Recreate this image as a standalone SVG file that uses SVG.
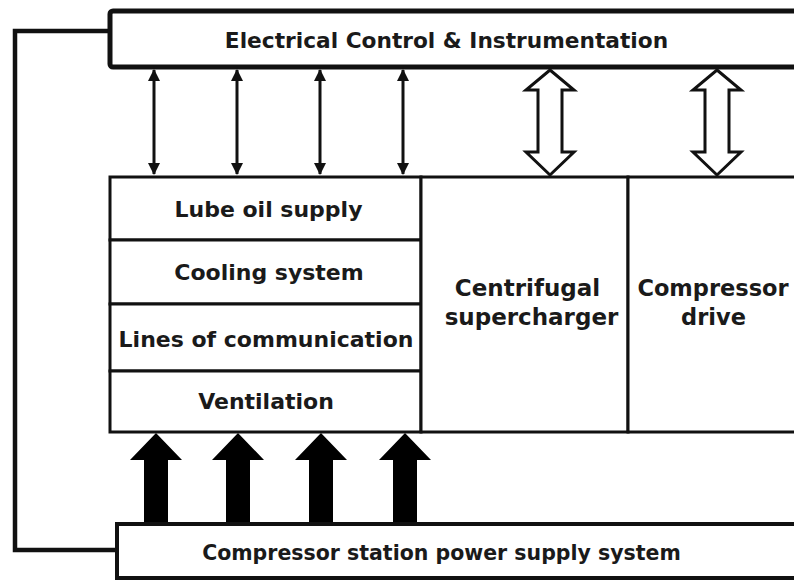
<svg xmlns="http://www.w3.org/2000/svg" width="794" height="581" viewBox="0 0 794 581">
<style>
.box{fill:#fff;stroke:#111;stroke-width:3}
.thick{fill:#fff;stroke:#111;stroke-width:5}
.t{font-family:"DejaVu Sans","Liberation Sans",Arial,sans-serif;font-weight:bold;font-size:22px;fill:#1a1a1a;text-anchor:middle}
.ln{fill:none;stroke:#111;stroke-width:3}
.hollow{fill:#fff;stroke:#111;stroke-width:3;stroke-linejoin:miter}
.solid{fill:#000}
</style>
<defs>
<marker id="ah" viewBox="0 0 12 12" refX="11" refY="6" markerWidth="12" markerHeight="12" markerUnits="userSpaceOnUse" orient="auto-start-reverse">
<path d="M0,0 L12,6 L0,12 Z" fill="#111"/>
</marker>
</defs>
<rect width="794" height="581" fill="#fff"/>

<g id="connectors">
<polyline class="ln" points="112,31 15,31 15,550 118,550" style="stroke-width:4.5"/>
<line class="ln" x1="154" y1="70" x2="154" y2="174" marker-start="url(#ah)" marker-end="url(#ah)"/>
<line class="ln" x1="237" y1="70" x2="237" y2="174" marker-start="url(#ah)" marker-end="url(#ah)"/>
<line class="ln" x1="320" y1="70" x2="320" y2="174" marker-start="url(#ah)" marker-end="url(#ah)"/>
<line class="ln" x1="403" y1="70" x2="403" y2="174" marker-start="url(#ah)" marker-end="url(#ah)"/>
<path class="hollow" d="M550,70 L574,90 L562,90 L562,152 L574,152 L550,175 L526,152 L538,152 L538,90 L526,90 Z"/>
<path class="hollow" d="M717,70 L741,90 L729,90 L729,152 L741,152 L717,175 L693,152 L705,152 L705,90 L693,90 Z"/>
<path class="solid" d="M156,433 L182,460 L168,460 L168,524 L144,524 L144,460 L130,460 Z"/>
<path class="solid" d="M238,433 L264,460 L250,460 L250,524 L226,524 L226,460 L212,460 Z"/>
<path class="solid" d="M321,433 L347,460 L333,460 L333,524 L309,524 L309,460 L295,460 Z"/>
<path class="solid" d="M405,433 L431,460 L417,460 L417,524 L393,524 L393,460 L379,460 Z"/>
</g>

<g id="eci">
<rect class="thick" x="110" y="11" width="700" height="56" rx="3"/>
<text class="t" x="446.5" y="48" style="font-size:21.7px">Electrical Control &amp; Instrumentation</text>
</g>

<g id="lube">
<rect class="box" x="110" y="177" width="311" height="63"/>
<text class="t" x="268.5" y="217">Lube oil supply</text>
</g>
<g id="cooling">
<rect class="box" x="110" y="240" width="311" height="64"/>
<text class="t" x="269" y="280">Cooling system</text>
</g>
<g id="lines">
<rect class="box" x="110" y="304" width="311" height="67"/>
<text class="t" x="266" y="347">Lines of communication</text>
</g>
<g id="ventilation">
<rect class="box" x="110" y="371" width="311" height="61"/>
<text class="t" x="266" y="409">Ventilation</text>
</g>
<g id="centrifugal">
<rect class="box" x="421" y="177" width="207" height="255"/>
<text class="t" x="527.5" y="296" style="font-size:23px">Centrifugal</text>
<text class="t" x="531.5" y="325" style="font-size:23px">supercharger</text>
</g>
<g id="drive">
<rect class="box" x="628" y="177" width="180" height="255"/>
<text class="t" x="713" y="296" style="font-size:22.5px">Compressor</text>
<text class="t" x="713.5" y="325" style="font-size:22.5px">drive</text>
</g>

<g id="power">
<rect class="thick" x="117" y="524" width="700" height="54" style="stroke-width:4"/>
<text class="t" x="441.5" y="560" style="font-size:20.5px">Compressor station power supply system</text>
</g>
</svg>
